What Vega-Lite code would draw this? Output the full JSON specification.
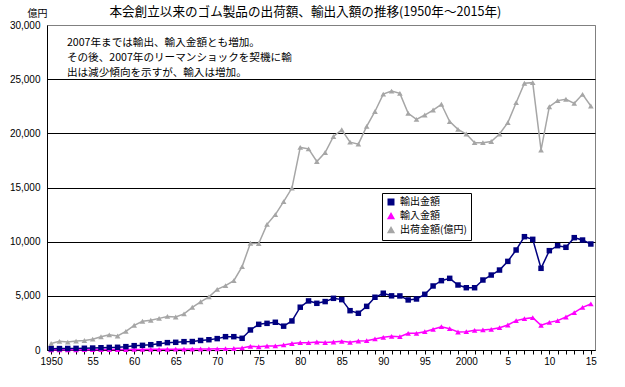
{
  "$schema": "https://vega.github.io/schema/vega-lite/v6.json",
  "width": 548,
  "height": 325,
  "autosize": {"type": "none"},
  "padding": {"left": 47, "top": 25, "right": 30, "bottom": 37},
  "background": "white",
  "config": {
    "view": {"stroke": "#808080", "strokeWidth": 1},
    "font": "Noto Sans CJK JP",
    "axis": {"labelOverlap": false},
    "axisX": {"labelOverlap": false, "labelBound": false, "labelFlush": false},
    "title": {"fontWeight": "normal"}
  },
  "title": {
    "text": "本会創立以来のゴム製品の出荷額、輸出入額の推移(1950年～2015年)",
    "anchor": "start",
    "dx": 100,
    "offset": -11,
    "fontSize": 12.6,
    "fontWeight": 400,
    "font": "Noto Sans CJK JP",
    "color": "black"
  },
  "datasets": {
    "main": [
      {"year": 1950, "輸出金額": 120, "輸入金額": 20, "出荷金額(億円)": 600},
      {"year": 1951, "輸出金額": 130, "輸入金額": 20, "出荷金額(億円)": 800},
      {"year": 1952, "輸出金額": 140, "輸入金額": 20, "出荷金額(億円)": 730},
      {"year": 1953, "輸出金額": 150, "輸入金額": 25, "出荷金額(億円)": 820},
      {"year": 1954, "輸出金額": 160, "輸入金額": 30, "出荷金額(億円)": 880},
      {"year": 1955, "輸出金額": 180, "輸入金額": 30, "出荷金額(億円)": 1000},
      {"year": 1956, "輸出金額": 210, "輸入金額": 35, "出荷金額(億円)": 1220},
      {"year": 1957, "輸出金額": 240, "輸入金額": 40, "出荷金額(億円)": 1400},
      {"year": 1958, "輸出金額": 250, "輸入金額": 40, "出荷金額(億円)": 1290},
      {"year": 1959, "輸出金額": 310, "輸入金額": 45, "出荷金額(億円)": 1720},
      {"year": 1960, "輸出金額": 400, "輸入金額": 50, "出荷金額(億円)": 2280},
      {"year": 1961, "輸出金額": 430, "輸入金額": 55, "出荷金額(億円)": 2650},
      {"year": 1962, "輸出金額": 490, "輸入金額": 60, "出荷金額(億円)": 2740},
      {"year": 1963, "輸出金額": 580, "輸入金額": 65, "出荷金額(億円)": 2920},
      {"year": 1964, "輸出金額": 680, "輸入金額": 70, "出荷金額(億円)": 3100},
      {"year": 1965, "輸出金額": 710, "輸入金額": 75, "出荷金額(億円)": 3050},
      {"year": 1966, "輸出金額": 770, "輸入金額": 80, "出荷金額(億円)": 3330},
      {"year": 1967, "輸出金額": 780, "輸入金額": 85, "出荷金額(億円)": 3940},
      {"year": 1968, "輸出金額": 880, "輸入金額": 90, "出荷金額(億円)": 4450},
      {"year": 1969, "輸出金額": 950, "輸入金額": 100, "出荷金額(億円)": 4900},
      {"year": 1970, "輸出金額": 1050, "輸入金額": 110, "出荷金額(億円)": 5600},
      {"year": 1971, "輸出金額": 1230, "輸入金額": 120, "出荷金額(億円)": 5940},
      {"year": 1972, "輸出金額": 1230, "輸入金額": 140, "出荷金額(億円)": 6400},
      {"year": 1973, "輸出金額": 1080, "輸入金額": 190, "出荷金額(億円)": 7700},
      {"year": 1974, "輸出金額": 1850, "輸入金額": 340, "出荷金額(億円)": 9860},
      {"year": 1975, "輸出金額": 2370, "輸入金額": 300, "出荷金額(億円)": 9830},
      {"year": 1976, "輸出金額": 2460, "輸入金額": 370, "出荷金額(億円)": 11600},
      {"year": 1977, "輸出金額": 2560, "輸入金額": 380, "出荷金額(億円)": 12500},
      {"year": 1978, "輸出金額": 2200, "輸入金額": 470, "出荷金額(億円)": 13700},
      {"year": 1979, "輸出金額": 2680, "輸入金額": 600, "出荷金額(億円)": 14950},
      {"year": 1980, "輸出金額": 3950, "輸入金額": 680, "出荷金額(億円)": 18700},
      {"year": 1981, "輸出金額": 4530, "輸入金額": 680, "出荷金額(億円)": 18570},
      {"year": 1982, "輸出金額": 4310, "輸入金額": 740, "出荷金額(億円)": 17400},
      {"year": 1983, "輸出金額": 4470, "輸入金額": 690, "出荷金額(億円)": 18230},
      {"year": 1984, "輸出金額": 4770, "輸入金額": 740, "出荷金額(億円)": 19710},
      {"year": 1985, "輸出金額": 4650, "輸入金額": 800, "出荷金額(億円)": 20330},
      {"year": 1986, "輸出金額": 3630, "輸入金額": 710, "出荷金額(億円)": 19190},
      {"year": 1987, "輸出金額": 3390, "輸入金額": 830, "出荷金額(億円)": 19000},
      {"year": 1988, "輸出金額": 4030, "輸入金額": 860, "出荷金額(億円)": 20640},
      {"year": 1989, "輸出金額": 4870, "輸入金額": 1020, "出荷金額(億円)": 22020},
      {"year": 1990, "輸出金額": 5240, "輸入金額": 1170, "出荷金額(億円)": 23620},
      {"year": 1991, "輸出金額": 5000, "輸入金額": 1260, "出荷金額(億円)": 23900},
      {"year": 1992, "輸出金額": 4990, "輸入金額": 1230, "出荷金額(億円)": 23690},
      {"year": 1993, "輸出金額": 4620, "輸入金額": 1540, "出荷金額(億円)": 21850},
      {"year": 1994, "輸出金額": 4710, "輸入金額": 1540, "出荷金額(億円)": 21290},
      {"year": 1995, "輸出金額": 5140, "輸入金額": 1690, "出荷金額(億円)": 21690},
      {"year": 1996, "輸出金額": 5910, "輸入金額": 1910, "出荷金額(億円)": 22150},
      {"year": 1997, "輸出金額": 6400, "輸入金額": 2150, "出荷金額(億円)": 22680},
      {"year": 1998, "輸出金額": 6615, "輸入金額": 1970, "出荷金額(億円)": 21080},
      {"year": 1999, "輸出金額": 6000, "輸入金額": 1660, "出荷金額(億円)": 20370},
      {"year": 2000, "輸出金額": 5750, "輸入金額": 1690, "出荷金額(億円)": 19940},
      {"year": 2001, "輸出金額": 5750, "輸入金額": 1815, "出荷金額(億円)": 19140},
      {"year": 2002, "輸出金額": 6460, "輸入金額": 1850, "出荷金額(億円)": 19140},
      {"year": 2003, "輸出金額": 6920, "輸入金額": 1910, "出荷金額(億円)": 19250},
      {"year": 2004, "輸出金額": 7380, "輸入金額": 2060, "出荷金額(億円)": 19940},
      {"year": 2005, "輸出金額": 8180, "輸入金額": 2310, "出荷金額(億円)": 20990},
      {"year": 2006, "輸出金額": 9230, "輸入金額": 2710, "出荷金額(億円)": 22830},
      {"year": 2007, "輸出金額": 10460, "輸入金額": 2890, "出荷金額(億円)": 24620},
      {"year": 2008, "輸出金額": 10215, "輸入金額": 2985, "出荷金額(億円)": 24680},
      {"year": 2009, "輸出金額": 7540, "輸入金額": 2280, "出荷金額(億円)": 18460},
      {"year": 2010, "輸出金額": 9170, "輸入金額": 2550, "出荷金額(億円)": 22460},
      {"year": 2011, "輸出金額": 9630, "輸入金額": 2710, "出荷金額(億円)": 23020},
      {"year": 2012, "輸出金額": 9480, "輸入金額": 3045, "出荷金額(億円)": 23140},
      {"year": 2013, "輸出金額": 10370, "輸入金額": 3450, "出荷金額(億円)": 22770},
      {"year": 2014, "輸出金額": 10150, "輸入金額": 3940, "出荷金額(億円)": 23600},
      {"year": 2015, "輸出金額": 9785, "輸入金額": 4250, "出荷金額(億円)": 22520}
    ],
    "notes": [
      {"year": 1951.9, "value": 28330, "label": "2007年までは輸出、輸入金額とも増加。"},
      {"year": 1951.9, "value": 26950, "label": "その後、2007年のリーマンショックを契機に輸"},
      {"year": 1951.9, "value": 25570, "label": "出は減少傾向を示すが、輸入は増加。"}
    ]
  },
  "encoding": {
    "x": {
      "field": "year", "type": "quantitative",
      "scale": {"domain": [1949.5, 2015.5], "nice": false, "zero": false},
      "axis": {
        "title": null,
        "grid": false,
        "values": [1950,1951,1952,1953,1954,1955,1956,1957,1958,1959,1960,1961,1962,1963,1964,1965,1966,1967,1968,1969,1970,1971,1972,1973,1974,1975,1976,1977,1978,1979,1980,1981,1982,1983,1984,1985,1986,1987,1988,1989,1990,1991,1992,1993,1994,1995,1996,1997,1998,1999,2000,2001,2002,2003,2004,2005,2006,2007,2008,2009,2010,2011,2012,2013,2014,2015],
        "labelExpr": "(round(datum.value) % 5) != 0 ? '' : ((round(datum.value) == 1950 || round(datum.value) == 2000) ? ('' + round(datum.value)) : ('' + (round(datum.value) % 100)))",
        "labelOverlap": false,
        "labelSeparation": 0,
        "labelFont": "Liberation Sans",
        "labelFontSize": 10,
        "labelColor": "black",
        "labelPadding": 2,
        "domainColor": "black",
        "tickColor": "black",
        "tickSize": 4
      }
    },
    "y": {
      "field": "value", "type": "quantitative",
      "scale": {"domain": [0, 30000], "nice": false},
      "axis": {
        "title": "億円",
        "titleAngle": 0,
        "titleX": -10,
        "titleY": -12,
        "titleAlign": "center",
        "titleBaseline": "middle",
        "titleFont": "Noto Sans CJK JP",
        "titleFontSize": 10,
        "titleFontWeight": "normal",
        "titleColor": "black",
        "values": [0, 5000, 10000, 15000, 20000, 25000, 30000],
        "format": ",d",
        "labelFont": "Liberation Sans",
        "labelFontSize": 10,
        "labelColor": "black",
        "labelPadding": 7,
        "ticks": false,
        "domainColor": "black",
        "gridColor": {"condition": {"test": "datum.value >= 30000", "value": "#808080"}, "value": "black"},
        "gridOpacity": 1
      }
    }
  },
  "layer": [
    {
      "data": {"name": "main"},
      "transform": [
        {"fold": ["出荷金額(億円)", "輸入金額", "輸出金額"], "as": ["series", "value"]}
      ],
      "mark": {"type": "line", "strokeWidth": 1.5},
      "encoding": {
        "color": {
          "field": "series", "type": "nominal",
          "scale": {"domain": ["輸出金額", "輸入金額", "出荷金額(億円)"], "range": ["#000080", "#FF00FF", "#A6A6A6"]}
        },
        "detail": {"field": "series"}
      }
    },
    {
      "data": {"name": "main"},
      "transform": [
        {"fold": ["出荷金額(億円)", "輸入金額", "輸出金額"], "as": ["series", "value"]}
      ],
      "mark": {"type": "point", "filled": true, "opacity": 1},
      "encoding": {
        "color": {
          "field": "series", "type": "nominal",
          "scale": {"domain": ["輸出金額", "輸入金額", "出荷金額(億円)"], "range": ["#000080", "#FF00FF", "#A6A6A6"]},
          "legend": {
            "orient": "none",
            "legendX": 335,
            "legendY": 168,
            "title": null,
            "padding": 4,
            "strokeColor": "black",
            "fillColor": "white",
            "labelFont": "Noto Sans CJK JP",
            "labelFontSize": 10,
            "labelColor": "black",
            "rowPadding": 2,
            "symbolOpacity": 1
          }
        },
        "shape": {
          "field": "series", "type": "nominal",
          "scale": {"domain": ["輸出金額", "輸入金額", "出荷金額(億円)"], "range": ["square", "triangle-up", "triangle-up"]}
        },
        "size": {
          "field": "series", "type": "nominal",
          "scale": {"domain": ["輸出金額", "輸入金額", "出荷金額(億円)"], "range": [30, 32, 14]}
        }
      }
    },
    {
      "data": {"name": "notes"},
      "mark": {"type": "text", "align": "left", "baseline": "middle", "font": "Noto Sans CJK JP", "fontSize": 10.6, "color": "black"},
      "encoding": {
        "text": {"field": "label"}
      }
    }
  ]
}
